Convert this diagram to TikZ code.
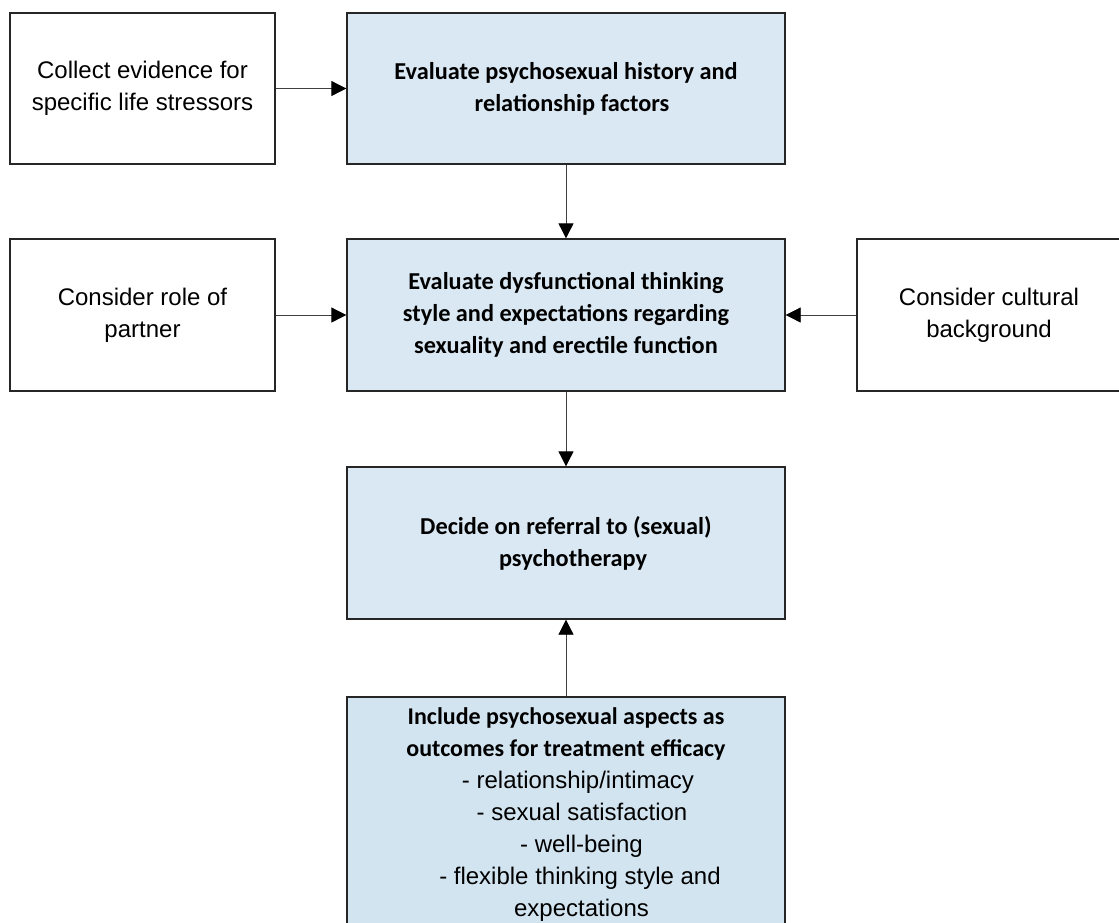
\documentclass[tikz,border=0pt]{standalone}
\usepackage{fontspec}
\setmainfont{Liberation Sans}
\newfontfamily\calibri{Carlito}
\usepackage{xcolor}
\usetikzlibrary{arrows.meta, positioning}
\definecolor{boxblue}{HTML}{DAE8F3}
\definecolor{boxbluedark}{HTML}{D3E4F1}
\tikzset{
    >={Triangle[length=15pt,width=15pt,color=black]}, % filled triangle heads
    box/.style={draw=black!85, line width=1.3pt, minimum width=265pt, minimum height=151pt,
        align=center, font=\fontsize{24}{32}\selectfont},
    bluebox/.style={box, fill=boxblue, minimum width=438pt,
        font=\calibri\bfseries\fontsize{24.3}{32}\selectfont},
}
\tikzstyle{arrow} = [draw=black!75, line width=0.8pt, ->]

\begin{document}
\begin{tikzpicture}[x=1pt,y=-1pt]
        \useasboundingbox (0,0) rectangle (1119,922);

        % Prima riga
        \node[box] (evidence) at (142.5,88.5) {Collect evidence for\\specific life stressors};
        \node[bluebox] (history) at (566,88.5) {Evaluate psychosexual history and\\\hspace*{12pt}relationship factors};

        % Seconda riga
        \node[box, minimum height=152pt] (partner) at (142.5,315) {Consider role of\\partner};
        \node[bluebox, minimum height=152pt] (thinking) at (566,315) {Evaluate dysfunctional thinking\\style and expectations regarding\\sexuality and erectile function};
        \node[box, minimum height=152pt, minimum width=264pt] (culture) at (989,315) {Consider cultural\\background};

        % Terza riga
        \node[bluebox, minimum height=152pt] (referral) at (566,543) {Decide on referral to (sexual)\\\hspace*{14pt}psychotherapy};

        % Ultimo riquadro (tagliato in basso)
        \node[bluebox, fill=boxbluedark, minimum height=236pt, font=\fontsize{24}{32}\selectfont] (outcomes) at (566,815) {%
            {\calibri\bfseries Include psychosexual aspects as}\\
            {\calibri\bfseries outcomes for treatment efficacy}\\
            \hspace*{24pt}- relationship/intimacy\\
            \hspace*{32pt}- sexual satisfaction\\
            \hspace*{31pt}- well-being\\
            \hspace*{28pt}- flexible thinking style and\\
            \hspace*{31pt}expectations};

        % Frecce
        \draw[arrow] (evidence) -- (history);
        \draw[arrow] (history) -- (thinking);
        \draw[arrow] (partner) -- (thinking);
        \draw[arrow] (culture) -- (thinking);
        \draw[arrow] (thinking) -- (referral);
        \draw[arrow] (outcomes) -- (referral);
\end{tikzpicture}
\end{document}
